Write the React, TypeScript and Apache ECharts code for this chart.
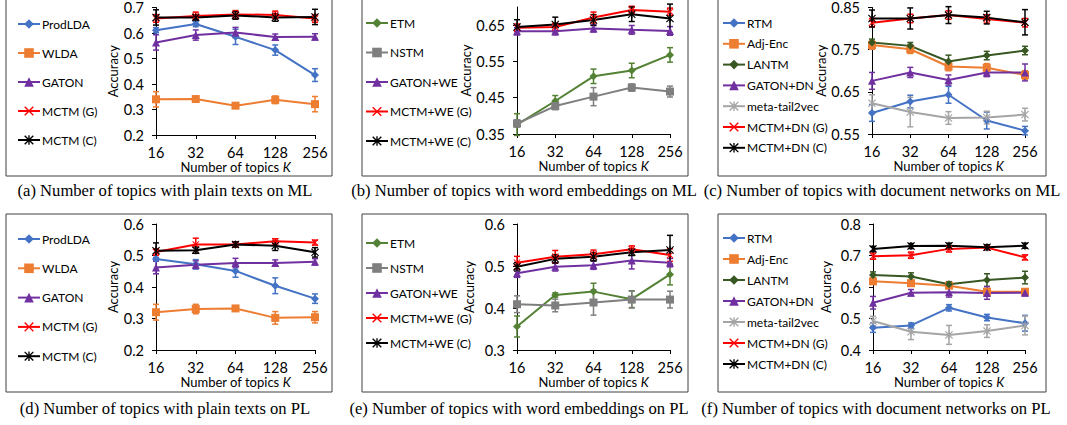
import React, { useEffect, useRef } from 'react';
import * as echarts from 'echarts';

const categories = ['16', '32', '64', '128', '256'];

// (a) plain texts on ML
const aProdLDA = [0.611, 0.635, 0.585, 0.533, 0.435];
const aProdLDAErr = [0.01, 0.01, 0.03, 0.02, 0.025];
const aWLDA = [0.34, 0.341, 0.315, 0.338, 0.321];
const aWLDAErr = [0.03, 0.01, 0.01, 0.015, 0.03];
const aGATON = [0.563, 0.592, 0.602, 0.584, 0.585];
const aGATONErr = [0.03, 0.02, 0.02, 0.012, 0.012];
const aMCTMG = [0.657, 0.667, 0.673, 0.671, 0.657];
const aMCTMGErr = [0.015, 0.015, 0.015, 0.015, 0.015];
const aMCTMC = [0.661, 0.661, 0.669, 0.661, 0.663];
const aMCTMCErr = [0.03, 0.01, 0.015, 0.015, 0.03];

// (b) word embeddings on ML
const bETM = [0.376, 0.441, 0.509, 0.525, 0.568];
const bETMErr = [0.03, 0.015, 0.02, 0.02, 0.02];
const bNSTM = [0.379, 0.427, 0.453, 0.478, 0.467];
const bNSTMErr = [0.01, 0.01, 0.025, 0.01, 0.015];
const bGATONWE = [0.633, 0.633, 0.641, 0.637, 0.634];
const bGATONWEErr = [0.01, 0.01, 0.01, 0.012, 0.012];
const bMCTMWEG = [0.643, 0.645, 0.671, 0.692, 0.687];
const bMCTMWEGErr = [0.01, 0.01, 0.015, 0.01, 0.01];
const bMCTMWEC = [0.645, 0.652, 0.664, 0.68, 0.668];
const bMCTMWECErr = [0.02, 0.02, 0.015, 0.02, 0.04];

// (c) document networks on ML
const cRTM = [0.6, 0.627, 0.643, 0.582, 0.558];
const cRTMErr = [0.02, 0.015, 0.02, 0.02, 0.01];
const cAdjEnc = [0.761, 0.751, 0.71, 0.707, 0.69];
const cAdjEncErr = [0.01, 0.01, 0.01, 0.01, 0.01];
const cLANTM = [0.767, 0.759, 0.722, 0.736, 0.748];
const cLANTMErr = [0.008, 0.008, 0.015, 0.01, 0.01];
const cGATONDN = [0.676, 0.696, 0.678, 0.696, 0.696];
const cGATONDNErr = [0.02, 0.012, 0.012, 0.01, 0.02];
const cMetaTail = [0.623, 0.602, 0.588, 0.589, 0.596];
const cMetaTailErr = [0.02, 0.035, 0.015, 0.015, 0.015];
const cMCTMDNG = [0.814, 0.824, 0.832, 0.823, 0.814];
const cMCTMDNGErr = [0.01, 0.01, 0.01, 0.01, 0.01];
const cMCTMDNC = [0.824, 0.824, 0.832, 0.826, 0.815];
const cMCTMDNCErr = [0.02, 0.025, 0.02, 0.015, 0.03];

// (d) plain texts on PL
const dProdLDA = [0.489, 0.472, 0.451, 0.404, 0.363];
const dProdLDAErr = [0.005, 0.015, 0.02, 0.025, 0.015];
const dWLDA = [0.32, 0.33, 0.332, 0.302, 0.304];
const dWLDAErr = [0.025, 0.015, 0.008, 0.02, 0.018];
const dGATON = [0.462, 0.471, 0.476, 0.476, 0.48];
const dGATONErr = [0.02, 0.012, 0.015, 0.01, 0.01];
const dMCTMG = [0.511, 0.535, 0.535, 0.545, 0.541];
const dMCTMGErr = [0.01, 0.02, 0.008, 0.008, 0.008];
const dMCTMC = [0.515, 0.517, 0.535, 0.531, 0.51];
const dMCTMCErr = [0.025, 0.01, 0.008, 0.015, 0.015];

// (e) word embeddings on PL
const eETM = [0.356, 0.431, 0.439, 0.421, 0.48];
const eETMErr = [0.025, 0.005, 0.02, 0.02, 0.025];
const eNSTM = [0.409, 0.406, 0.413, 0.42, 0.42];
const eNSTMErr = [0.02, 0.015, 0.03, 0.02, 0.02];
const eGATONWE = [0.483, 0.498, 0.502, 0.513, 0.508];
const eGATONWEErr = [0.01, 0.01, 0.01, 0.02, 0.01];
const eMCTMWEG = [0.508, 0.522, 0.528, 0.54, 0.526];
const eMCTMWEGErr = [0.015, 0.015, 0.01, 0.008, 0.015];
const eMCTMWEC = [0.498, 0.517, 0.522, 0.533, 0.538];
const eMCTMWECErr = [0.01, 0.01, 0.01, 0.008, 0.035];

// (f) document networks on PL
const fRTM = [0.471, 0.478, 0.534, 0.503, 0.485];
const fRTMErr = [0.015, 0.008, 0.01, 0.01, 0.025];
const fAdjEnc = [0.618, 0.612, 0.604, 0.585, 0.585];
const fAdjEncErr = [0.008, 0.008, 0.008, 0.008, 0.008];
const fLANTM = [0.638, 0.633, 0.609, 0.622, 0.63];
const fLANTMErr = [0.01, 0.012, 0.008, 0.02, 0.02];
const fGATONDN = [0.55, 0.582, 0.583, 0.581, 0.582];
const fGATONDNErr = [0.02, 0.01, 0.015, 0.02, 0.01];
const fMetaTail = [0.492, 0.458, 0.448, 0.46, 0.478];
const fMetaTailErr = [0.015, 0.025, 0.03, 0.02, 0.03];
const fMCTMDNG = [0.698, 0.701, 0.721, 0.725, 0.694];
const fMCTMDNGErr = [0.01, 0.01, 0.01, 0.005, 0.008];
const fMCTMDNC = [0.721, 0.73, 0.731, 0.726, 0.731];
const fMCTMDNCErr = [0.008, 0.008, 0.008, 0.008, 0.008];

const captions = [
  '(a) Number of topics with plain texts on ML',
  '(b) Number of topics with word embeddings on ML',
  '(c) Number of topics with document networks on ML',
  '(d) Number of topics with plain texts on PL',
  '(e) Number of topics with word embeddings on PL',
  '(f) Number of topics with document networks on PL',
];

const X_PATH = 'path://M1,0 L5,4 L9,0 L10,1 L6,5 L10,9 L9,10 L5,6 L1,10 L0,9 L4,5 L0,1 Z';
const STAR_PATH =
  'path://M1,0 L5,4 L9,0 L10,1 L6,5 L10,9 L9,10 L5,6 L1,10 L0,9 L4,5 L0,1 Z M4.3,0 L5.7,0 L5.7,10 L4.3,10 Z';

type S = { name: string; values: number[]; errors: number[]; color: string; symbol: string; size: number };

const BLUE = '#4472C4';
const ORANGE = '#ED7D31';
const PURPLE = '#7030A0';
const RED = '#FF0000';
const BLACK = '#000000';

const panels: { series: S[]; min: number; max: number; legendTop: number; legendLeft: number; gap: number; nameGap: number }[] = [
  {
    min: 0.2, max: 0.7, legendTop: 18, legendLeft: 17, gap: 17, nameGap: 36,
    series: [
      { name: 'ProdLDA', values: aProdLDA, errors: aProdLDAErr, color: BLUE, symbol: 'diamond', size: 8 },
      { name: 'WLDA', values: aWLDA, errors: aWLDAErr, color: ORANGE, symbol: 'rect', size: 8 },
      { name: 'GATON', values: aGATON, errors: aGATONErr, color: PURPLE, symbol: 'triangle', size: 8 },
      { name: 'MCTM (G)', values: aMCTMG, errors: aMCTMGErr, color: RED, symbol: X_PATH, size: 7 },
      { name: 'MCTM (C)', values: aMCTMC, errors: aMCTMCErr, color: BLACK, symbol: STAR_PATH, size: 8 },
    ],
  },
  {
    min: 0.35, max: 0.7, legendTop: 17, legendLeft: 365, gap: 17.5, nameGap: 42,
    series: [
      { name: 'ETM', values: bETM, errors: bETMErr, color: '#548235', symbol: 'diamond', size: 8 },
      { name: 'NSTM', values: bNSTM, errors: bNSTMErr, color: '#7F7F7F', symbol: 'rect', size: 8 },
      { name: 'GATON+WE', values: bGATONWE, errors: bGATONWEErr, color: PURPLE, symbol: 'triangle', size: 8 },
      { name: 'MCTM+WE (G)', values: bMCTMWEG, errors: bMCTMWEGErr, color: RED, symbol: X_PATH, size: 7 },
      { name: 'MCTM+WE (C)', values: bMCTMWEC, errors: bMCTMWECErr, color: BLACK, symbol: STAR_PATH, size: 8 },
    ],
  },
  {
    min: 0.55, max: 0.85, legendTop: 17, legendLeft: 722, gap: 8.8, nameGap: 41,
    series: [
      { name: 'RTM', values: cRTM, errors: cRTMErr, color: BLUE, symbol: 'diamond', size: 8 },
      { name: 'Adj-Enc', values: cAdjEnc, errors: cAdjEncErr, color: ORANGE, symbol: 'rect', size: 8 },
      { name: 'LANTM', values: cLANTM, errors: cLANTMErr, color: '#385723', symbol: 'diamond', size: 8 },
      { name: 'GATON+DN', values: cGATONDN, errors: cGATONDNErr, color: PURPLE, symbol: 'triangle', size: 8 },
      { name: 'meta-tail2vec', values: cMetaTail, errors: cMetaTailErr, color: '#A5A5A5', symbol: STAR_PATH, size: 8 },
      { name: 'MCTM+DN (G)', values: cMCTMDNG, errors: cMCTMDNGErr, color: RED, symbol: X_PATH, size: 7 },
      { name: 'MCTM+DN (C)', values: cMCTMDNC, errors: cMCTMDNCErr, color: BLACK, symbol: STAR_PATH, size: 8 },
    ],
  },
  {
    min: 0.2, max: 0.6, legendTop: 233, legendLeft: 17, gap: 17.3, nameGap: 36,
    series: [
      { name: 'ProdLDA', values: dProdLDA, errors: dProdLDAErr, color: BLUE, symbol: 'diamond', size: 8 },
      { name: 'WLDA', values: dWLDA, errors: dWLDAErr, color: ORANGE, symbol: 'rect', size: 8 },
      { name: 'GATON', values: dGATON, errors: dGATONErr, color: PURPLE, symbol: 'triangle', size: 8 },
      { name: 'MCTM (G)', values: dMCTMG, errors: dMCTMGErr, color: RED, symbol: X_PATH, size: 7 },
      { name: 'MCTM (C)', values: dMCTMC, errors: dMCTMCErr, color: BLACK, symbol: STAR_PATH, size: 8 },
    ],
  },
  {
    min: 0.3, max: 0.6, legendTop: 237, legendLeft: 365, gap: 13, nameGap: 42,
    series: [
      { name: 'ETM', values: eETM, errors: eETMErr, color: '#548235', symbol: 'diamond', size: 8 },
      { name: 'NSTM', values: eNSTM, errors: eNSTMErr, color: '#7F7F7F', symbol: 'rect', size: 8 },
      { name: 'GATON+WE', values: eGATONWE, errors: eGATONWEErr, color: PURPLE, symbol: 'triangle', size: 8 },
      { name: 'MCTM+WE (G)', values: eMCTMWEG, errors: eMCTMWEGErr, color: RED, symbol: X_PATH, size: 7 },
      { name: 'MCTM+WE (C)', values: eMCTMWEC, errors: eMCTMWECErr, color: BLACK, symbol: STAR_PATH, size: 8 },
    ],
  },
  {
    min: 0.4, max: 0.8, legendTop: 232, legendLeft: 722, gap: 9, nameGap: 41,
    series: [
      { name: 'RTM', values: fRTM, errors: fRTMErr, color: BLUE, symbol: 'diamond', size: 8 },
      { name: 'Adj-Enc', values: fAdjEnc, errors: fAdjEncErr, color: ORANGE, symbol: 'rect', size: 8 },
      { name: 'LANTM', values: fLANTM, errors: fLANTMErr, color: '#385723', symbol: 'diamond', size: 8 },
      { name: 'GATON+DN', values: fGATONDN, errors: fGATONDNErr, color: PURPLE, symbol: 'triangle', size: 8 },
      { name: 'meta-tail2vec', values: fMetaTail, errors: fMetaTailErr, color: '#A5A5A5', symbol: STAR_PATH, size: 8 },
      { name: 'MCTM+DN (G)', values: fMCTMDNG, errors: fMCTMDNGErr, color: RED, symbol: X_PATH, size: 7 },
      { name: 'MCTM+DN (C)', values: fMCTMDNC, errors: fMCTMDNCErr, color: BLACK, symbol: STAR_PATH, size: 8 },
    ],
  },
];

const gridBoxes = [
  { left: 156, top: 7, width: 159, height: 128 },
  { left: 517, top: 7, width: 153, height: 127 },
  { left: 872, top: 7, width: 153, height: 127 },
  { left: 156, top: 224, width: 159, height: 126 },
  { left: 517, top: 224, width: 153, height: 126 },
  { left: 873, top: 224, width: 152, height: 126 },
];

const frames = [
  { x: 6, y: -5, w: 326, h: 181 },
  { x: 362, y: -5, w: 326, h: 181 },
  { x: 718, y: -5, w: 328, h: 181 },
  { x: 6, y: 214, w: 326, h: 178 },
  { x: 362, y: 214, w: 326, h: 178 },
  { x: 718, y: 214, w: 328, h: 178 },
];

const captionPos = [
  { x: 165, y: 190 },
  { x: 524, y: 190 },
  { x: 882, y: 190 },
  { x: 165, y: 408 },
  { x: 519, y: 408 },
  { x: 876, y: 408 },
];

const FONT = 'Lato';

function buildOption() {
  const xAxis: any[] = [];
  const yAxis: any[] = [];
  const legend: any[] = [];
  const series: any[] = [];
  panels.forEach((p, gi) => {
    xAxis.push({
      type: 'category',
      gridIndex: gi,
      data: categories,
      boundaryGap: false,
      axisLine: { lineStyle: { color: '#000', width: 1 } },
      axisTick: { show: true, length: 4, lineStyle: { color: '#000' } },
      axisLabel: { color: '#000', fontSize: 14.5, fontFamily: FONT, margin: 10 },
      name: 'Number of topics {i|K}',
      nameLocation: 'middle',
      nameGap: 24,
      nameTextStyle: {
        color: '#000',
        fontSize: 13,
        fontFamily: FONT,
        rich: { i: { fontStyle: 'italic', fontSize: 13, fontFamily: FONT, color: '#000' } },
      },
    });
    yAxis.push({
      type: 'value',
      gridIndex: gi,
      min: p.min,
      max: p.max,
      interval: 0.1,
      splitLine: { show: false },
      axisLine: { show: true, lineStyle: { color: '#000', width: 1 } },
      axisTick: { show: true, length: 4, lineStyle: { color: '#000' } },
      axisLabel: {
        color: '#000',
        fontSize: 14.5,
        fontFamily: FONT,
        margin: 12,
        showMaxLabel: gi === 1 ? false : true,
        formatter: (v: number) => {
          const r = Math.round(v * 100) / 100;
          return Math.abs(r * 10 - Math.round(r * 10)) < 1e-6 ? r.toFixed(1) : r.toFixed(2);
        },
      },
      name: 'Accuracy',
      nameLocation: 'middle',
      nameGap: p.nameGap,
      nameTextStyle: { color: '#000', fontSize: 13, fontFamily: FONT },
    });
    legend.push({
      orient: 'vertical',
      left: p.legendLeft,
      top: p.legendTop,
      itemWidth: 22,
      itemHeight: 12,
      itemGap: p.gap,
      padding: 0,
      selectedMode: false,
      textStyle: { color: '#000', fontSize: 12, fontFamily: FONT, padding: [0, 0, 0, -3] },
      data: p.series.map((s) => s.name),
    });
    p.series.forEach((s) => {
      series.push({
        type: 'custom',
        name: s.name + ' err ' + gi,
        xAxisIndex: gi,
        yAxisIndex: gi,
        clip: false,
        z: 1,
        data: s.values.map((v, i) => [i, v, s.errors[i]]),
        encode: { x: 0, y: 1 },
        renderItem: (params: any, api: any) => {
          const x = api.value(0);
          const v = api.value(1);
          const e = api.value(2);
          const top = api.coord([x, v + e]);
          const bot = api.coord([x, v - e]);
          const w = 3;
          const st = { stroke: s.color, lineWidth: 1.5 };
          return {
            type: 'group',
            children: [
              { type: 'line', shape: { x1: top[0], y1: top[1], x2: bot[0], y2: bot[1] }, style: st },
              { type: 'line', shape: { x1: top[0] - w, y1: top[1], x2: top[0] + w, y2: top[1] }, style: st },
              { type: 'line', shape: { x1: bot[0] - w, y1: bot[1], x2: bot[0] + w, y2: bot[1] }, style: st },
            ],
          };
        },
      });
    });
    p.series.forEach((s) => {
      series.push({
        type: 'line',
        name: s.name,
        xAxisIndex: gi,
        yAxisIndex: gi,
        data: s.values,
        symbol: s.symbol,
        symbolSize: s.size,
        showAllSymbol: true,
        z: 2,
        lineStyle: { color: s.color, width: 2 },
        itemStyle: { color: s.color },
      });
    });
  });

  const graphic: any[] = [];
  frames.forEach((f) => {
    graphic.push({
      type: 'rect',
      shape: { x: f.x, y: f.y, width: f.w, height: f.h },
      style: { fill: 'none', stroke: '#404040', lineWidth: 1 },
      silent: true,
      z: -1,
    });
  });
  captions.forEach((c, i) => {
    graphic.push({
      type: 'text',
      x: captionPos[i].x,
      y: captionPos[i].y,
      style: {
        text: c,
        fill: '#000',
        font: '16.6px "Liberation Serif"',
        textAlign: 'center',
        textVerticalAlign: 'middle',
      },
    });
  });

  return {
    animation: false,
    backgroundColor: '#ffffff',
    textStyle: { fontFamily: FONT },
    grid: gridBoxes.map((g) => ({ ...g, containLabel: false })),
    xAxis,
    yAxis,
    legend,
    series,
    graphic,
  };
}

export default function App() {
  const ref = useRef<HTMLDivElement>(null);
  useEffect(() => {
    if (!ref.current) return;
    const chart = echarts.init(ref.current, undefined, { renderer: 'svg' });
    chart.setOption(buildOption());
    return () => chart.dispose();
  }, []);
  return (
    <div
      ref={ref}
      style={{ position: 'absolute', left: 0, top: 0, width: 1067, height: 425, background: '#fff' }}
    />
  );
}
